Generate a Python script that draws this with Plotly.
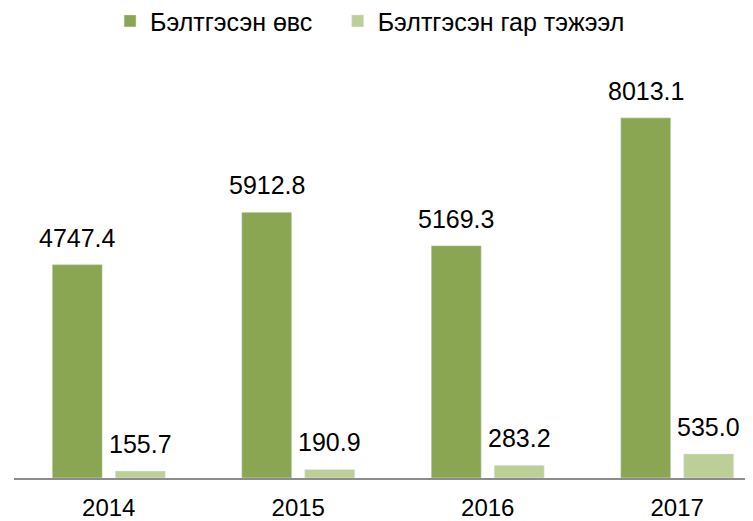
import plotly.graph_objects as go

years = ["2014", "2015", "2016", "2017"]
ovs = [4747.4, 5912.8, 5169.3, 8013.1]
tejeel = [155.7, 190.9, 283.2, 535.0]

name_ovs = "Бэлтгэсэн өвс"
name_tejeel = "Бэлтгэсэн гар тэжээл"

dark = "#8aa652"
light = "#bccf97"
font = "Liberation Sans, Arial, sans-serif"

fig = go.Figure()
fig.add_trace(go.Bar(x=years, y=ovs, name=name_ovs, marker_color=dark, legend="legend"))
fig.add_trace(go.Bar(x=years, y=tejeel, name=name_tejeel, marker_color=light, legend="legend2"))

# value labels sit a bit higher than plotly's "outside" text
for series, shift in [(ovs, -31.5), (tejeel, 31.5)]:
    for i, v in enumerate(series):
        fig.add_annotation(x=i, y=v, text=f"{v:.1f}", showarrow=False,
                           xref="x", yref="y", xshift=shift, yshift=11,
                           yanchor="bottom", font=dict(size=25, color="black"))

leg = dict(orientation="h", xanchor="left", y=1.093, yanchor="middle",
           yref="paper", font=dict(size=25), bgcolor="rgba(0,0,0,0)")

# page has an 8px body margin, so the figure is 8px smaller than the window
fig.update_layout(
    width=745, height=513,
    margin=dict(l=6, r=0, t=52, b=43, autoexpand=False),
    paper_bgcolor="white", plot_bgcolor="white",
    font=dict(family=font, size=24, color="black"),
    barmode="group", bargap=0.335, bargroupgap=0.206,
    showlegend=True,
    legend=dict(leg, x=0.130),
    legend2=dict(leg, x=0.438),
)
fig.update_xaxes(type="category", range=[-0.5, 3.4], automargin=False,
                 showline=True, linecolor="#8c8c8c", linewidth=1.5,
                 ticks="", ticklabelstandoff=7, showgrid=False)
fig.update_yaxes(range=[0, 9300], visible=False)

fig.write_html("out.html")
